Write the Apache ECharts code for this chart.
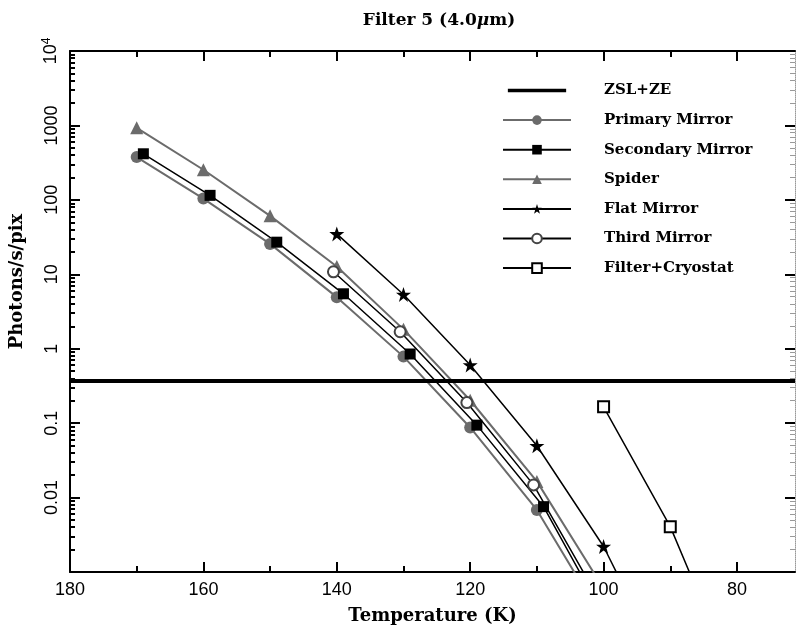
<!DOCTYPE html>
<html>
<head>
<meta charset="utf-8">
<script src="https://cdn.jsdelivr.net/npm/echarts@6/dist/echarts.min.js"></script>
<style>html,body{margin:0;padding:0;background:#fff}#c{width:798px;height:630px}</style>
</head>
<body>
<div id="c"></div>
<script>
// ---- data ----
const tempPrimary   = [170, 160, 150, 140, 130, 120, 110, 100];
const primaryMirror = [376, 104, 25.6, 4.93, 0.783, 0.0875, 0.00683, 0.00022];
const tempSecondary = [169, 159, 149, 139, 129, 119, 109, 99];
const secondaryMirror = [416, 115, 27, 5.47, 0.849, 0.094, 0.00755, 0.00018];
const tempSpider    = [170, 160, 150, 140, 130, 120, 110, 100];
const spider        = [929, 254, 61, 12.7, 1.82, 0.203, 0.0165, 0.0006];
const tempFlat      = [140, 130, 120, 110, 100, 90];
const flatMirror    = [34.9, 5.36, 0.605, 0.0497, 0.0022, 0.000035];
const tempThird     = [140.5, 130.5, 120.5, 110.5, 100.5];
const thirdMirror   = [10.8, 1.69, 0.189, 0.0148, 0.0004];
const tempFilter    = [100, 90, 80];
const filterCryostat = [0.166, 0.00407, 0.00003];
const zslTemps      = [180, 71.3];
const zslLevel      = [0.369, 0.369];

const xMajorTicks = [80, 100, 120, 140, 160, 180];
const xMinorTicks = [90, 110, 130, 150, 170];
const yTickLabels = {'10000': '{b|10}{s|4}', '1000': '1000', '100': '100', '10': '10', '1': '1', '0.1': '0.1', '0.01': '0.01', '0.001': ''};
const yDecades = [-3, -2, -1, 0, 1, 2, 3];
const yMinorMantissas = [2, 3, 4, 5, 6, 7, 8, 9];
// minor tick positions expressed as decade exponents (for a helper tick-only axis)
const yMinorExp = [];
yDecades.forEach(function (e) { yMinorMantissas.forEach(function (m) { yMinorExp.push(e + Math.log10(m)); }); });

const zip = (xs, ys) => xs.map((x, i) => [x, ys[i]]);
const STAR = 'path://M50,0 L61.8,35.1 L98.1,35.1 L68.8,56.8 L79.4,91.9 L50,70 L20.6,91.9 L31.2,56.8 L1.9,35.1 L38.2,35.1 Z';
const THICK_LINE_ICON = 'path://M0,0 L0.01,0 L0,0.01 Z M0,5 L68,5 L68,9 L0,9 Z M0,14 L0.01,14 L0,13.99 Z';
const GREY = '#6b6b6b';
const SERIF = '"DejaVu Serif", serif';
const SANS = '"Liberation Sans", Arial, sans-serif';

const X_MIN = 71.3, X_MAX = 180;
function xAx(opts) {
  return Object.assign({
    type: 'value', min: X_MIN, max: X_MAX, inverse: true, gridIndex: 0,
    splitLine: {show: false}, axisLine: {show: false, onZero: false}, axisLabel: {show: false}, axisTick: {show: false}
  }, opts);
}
function yLog(opts) {
  return Object.assign({
    type: 'log', logBase: 10, min: 0.001, max: 10000, interval: 1, gridIndex: 0,
    splitLine: {show: false}, axisLine: {show: false, onZero: false}, axisLabel: {show: false}, axisTick: {show: false}
  }, opts);
}
function yMinor(position, color, width) {
  return {
    type: 'value', min: -3, max: 4, gridIndex: 0, position: position,
    splitLine: {show: false}, axisLine: {show: false, onZero: false}, axisLabel: {show: false},
    axisTick: {show: true, inside: true, length: 5, customValues: yMinorExp, lineStyle: {color: color, width: width}}
  };
}

const chart = echarts.init(document.getElementById('c'), null, {renderer: 'canvas'});
chart.setOption({
  animation: false,
  backgroundColor: '#fff',
  title: {
    text: 'Filter 5 (4.0{i|μ}m)',
    left: 434, top: 7, textAlign: 'center',
    textStyle: {fontFamily: SERIF, fontWeight: 'bold', fontSize: 17, color: '#000',
      rich: {i: {fontFamily: SERIF, fontStyle: 'italic', fontWeight: 'bold', fontSize: 17, color: '#000'}}}
  },
  grid: {left: 69, right: 3, top: 51, bottom: 57, containLabel: false},
  legend: {
    orient: 'vertical', left: 497, top: 78,
    itemWidth: 68, itemHeight: 12, itemGap: 14.6,
    textStyle: {fontFamily: SERIF, fontWeight: 'bold', fontSize: 15, color: '#000', padding: [0, 0, 0, 28]},
    data: [
      {name: 'ZSL+ZE', icon: THICK_LINE_ICON, itemStyle: {color: '#000'}},
      'Primary Mirror', 'Secondary Mirror', 'Spider', 'Flat Mirror', 'Third Mirror', 'Filter+Cryostat'
    ]
  },
  xAxis: [
    xAx({position: 'bottom',
      name: 'Temperature (K)', nameLocation: 'middle', nameGap: 35,
      nameTextStyle: {fontFamily: SERIF, fontWeight: 'bold', fontSize: 18, color: '#000'},
      axisLine: {show: true, onZero: false, lineStyle: {color: '#000', width: 2}},
      axisTick: {show: true, inside: true, length: 10, customValues: xMajorTicks, lineStyle: {color: '#000', width: 2}},
      axisLabel: {show: true, customValues: xMajorTicks, margin: 9, fontFamily: SANS, fontSize: 18, color: '#000'}
    }),
    xAx({position: 'bottom',
      axisTick: {show: true, inside: true, length: 6, customValues: xMinorTicks, lineStyle: {color: '#000', width: 2}}
    }),
    xAx({position: 'top',
      axisLine: {show: true, onZero: false, lineStyle: {color: '#000', width: 2}},
      axisTick: {show: true, inside: true, length: 10, customValues: xMajorTicks, lineStyle: {color: '#000', width: 2}}
    }),
    xAx({position: 'top',
      axisTick: {show: true, inside: true, length: 6, customValues: xMinorTicks, lineStyle: {color: '#000', width: 2}}
    })
  ],
  yAxis: [
    yLog({position: 'left',
      name: 'Photons/s/pix', nameLocation: 'middle', nameGap: 44, nameRotate: 90,
      nameTextStyle: {fontFamily: SERIF, fontWeight: 'bold', fontSize: 18, color: '#000', padding: [0, 0, 0, 60]},
      axisLine: {show: true, onZero: false, lineStyle: {color: '#000', width: 2}},
      axisTick: {show: true, inside: true, length: 10, lineStyle: {color: '#000', width: 2}},
      axisLabel: {show: true, rotate: 90, margin: 9, fontFamily: SANS, fontSize: 18, color: '#000',
        formatter: function (v) { const k = String(+v.toPrecision(3)); return yTickLabels[k] !== undefined ? yTickLabels[k] : ''; },
        rich: {b: {fontFamily: SANS, fontSize: 18, color: '#000'}, s: {fontFamily: SANS, fontSize: 12, color: '#000', verticalAlign: 'top', padding: [0, 0, 8, 0]}}}
    }),
    yMinor('left', '#000', 2),
    yLog({position: 'right',
      axisLine: {show: true, onZero: false, lineStyle: {color: '#999', width: 1, type: 'dotted'}},
      axisTick: {show: true, inside: true, length: 10, lineStyle: {color: '#000', width: 2}}
    }),
    yMinor('right', '#999', 1)
  ],
  series: [
    {name: 'ZSL+ZE', type: 'line', xAxisIndex: 0, yAxisIndex: 0, data: zip(zslTemps, zslLevel),
      showSymbol: false, symbol: 'none', lineStyle: {color: '#000', width: 4}, itemStyle: {color: '#000'}, z: 5},
    {name: 'Primary Mirror', type: 'line', xAxisIndex: 0, yAxisIndex: 0, data: zip(tempPrimary, primaryMirror),
      symbol: 'circle', symbolSize: 12, lineStyle: {color: GREY, width: 2}, itemStyle: {color: GREY}},
    {name: 'Secondary Mirror', type: 'line', xAxisIndex: 0, yAxisIndex: 0, data: zip(tempSecondary, secondaryMirror),
      symbol: 'rect', symbolSize: 11, lineStyle: {color: '#000', width: 1.5}, itemStyle: {color: '#000'}},
    {name: 'Spider', type: 'line', xAxisIndex: 0, yAxisIndex: 0, data: zip(tempSpider, spider),
      symbol: 'triangle', symbolSize: 13, lineStyle: {color: GREY, width: 2}, itemStyle: {color: GREY}},
    {name: 'Flat Mirror', type: 'line', xAxisIndex: 0, yAxisIndex: 0, data: zip(tempFlat, flatMirror),
      symbol: STAR, symbolSize: 15, lineStyle: {color: '#000', width: 1.5}, itemStyle: {color: '#000'}},
    {name: 'Third Mirror', type: 'line', xAxisIndex: 0, yAxisIndex: 0, data: zip(tempThird, thirdMirror),
      symbol: 'emptyCircle', symbolSize: 11, lineStyle: {color: '#000', width: 1.5}, itemStyle: {color: '#444', borderWidth: 1}},
    {name: 'Filter+Cryostat', type: 'line', xAxisIndex: 0, yAxisIndex: 0, data: zip(tempFilter, filterCryostat),
      symbol: 'emptyRect', symbolSize: 11, lineStyle: {color: '#000', width: 1.5}, itemStyle: {color: '#000', borderWidth: 1}}
  ]
});
</script>
</body>
</html>
